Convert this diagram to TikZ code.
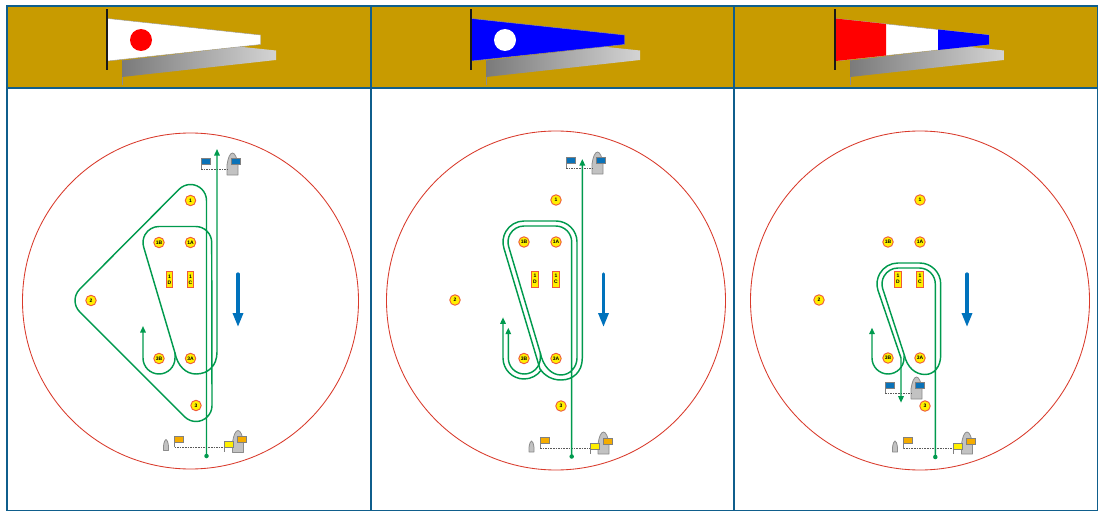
\documentclass[tikz,border=0pt]{standalone}
\usepackage{fontspec}
\setmainfont{Liberation Sans}
\usetikzlibrary{arrows.meta}
\definecolor{framec}{HTML}{0F5E8C}
\definecolor{bandc}{HTML}{C89B00}
\definecolor{coursec}{HTML}{009A4E}
\definecolor{windc}{HTML}{0072BC}
\definecolor{ringc}{HTML}{D93A2B}
\definecolor{buoyc}{HTML}{FFF000}
\definecolor{buoyl}{HTML}{EE5A3A}
\definecolor{flagb}{HTML}{0A72B8}
\definecolor{flago}{HTML}{F5AC00}
\definecolor{flagy}{HTML}{FFF000}
\tikzset{
  course/.style={draw=coursec,line width=1.45pt,line join=round,line cap=round},
  coursearrow/.style={course,-{Triangle[width=5.5pt,length=6.5pt]}},
  coursearrowrev/.style={course,{Triangle[width=5.5pt,length=6.5pt]}-},
  wind/.style={draw=windc,line width=3.2pt,line cap=round,-{Triangle[width=10pt,length=14pt]}},
  buoy/.style={circle,draw=buoyl,fill=buoyc,line width=.9pt,minimum size=10.5pt,inner sep=0pt,font=\fontsize{5}{5}\selectfont\bfseries},
  rectbuoy/.style={rectangle,draw=buoyl,fill=buoyc,line width=.9pt,minimum width=6.5pt,minimum height=16pt,inner sep=0pt,align=center,font=\fontsize{5}{6}\selectfont\bfseries},
  ring/.style={draw=ringc,line width=.85pt},
  panel/.style={draw=framec,line width=2pt},
  boat/.style={fill=black!24,draw=black!45,line width=.8pt,line join=round},
  flagbox/.style={draw=black!50,line width=.8pt},
  staff/.style={draw=black!50,line width=.8pt},
  layline/.style={draw=black!65,line width=.7pt,dash pattern=on 1.6pt off 1pt},
  dotend/.style={circle,fill=coursec,inner sep=0pt,minimum size=4.5pt},
}
\newcommand\bigboat[3]{% x left, y top, (w=11,h=22)
  \path[boat] (#1,#2+22) -- (#1,#2+12) .. controls (#1+1,#2+5) and (#1+3,#2) .. (#1+5.5,#2)
    .. controls (#1+8,#2) and (#1+10,#2+5) .. (#1+11,#2+12) -- (#1+11,#2+22) -- cycle;
}
\newcommand\topgate[3]{% left staff x, line y, colour
  \begin{scope}[shift={(#1,#2)}]
    \bigboat{26}{-16}{}
    \path[staff] (0,0) -- (0,-8);
    \path[layline] (0,0) -- (27,0);
    \path[flagbox,fill=#3] (0,-11) rectangle (9,-5);
    \path[flagbox,fill=#3] (30.5,-11) rectangle (39.5,-5);
  \end{scope}
}
\newcommand\bottomgate[2]{% left staff x, line y
  \begin{scope}[shift={(#1,#2)}]
    \path[boat] (-11,3.5) -- (-11,-1) .. controls (-10.5,-5) and (-9.5,-7.5) .. (-8.5,-7.5)
      .. controls (-7.5,-7.5) and (-6.5,-5) .. (-6,-1) -- (-6,3.5) -- cycle;
    \bigboat{58}{-16.5}{}
    \path[staff] (0,0) -- (0,-9);
    \path[flagbox,fill=flago] (0,-11) rectangle (9,-5);
    \path[layline] (0,0) -- (50,0);
    \path[staff] (50,-5) -- (50,5);
    \path[flagbox,fill=flagy] (50,-5.5) rectangle (59,0.5);
    \path[flagbox,fill=flago] (63,-10.5) rectangle (72,-4.5);
  \end{scope}
}
\newcommand\pennant[1]{% x offset; gives grey shadow and pole
  \begin{scope}[xshift=#1]
    \path[draw=black!45,line width=1pt] (122.5,60) -- (122.5,85);
    \shade[left color=black!52,right color=black!17,draw=none]
      (122,60.5) -- (240,46.7) -- (276,50.5) -- (276,60) -- (122,77) -- cycle;
  \end{scope}
}
\newcommand\pole[1]{\path[draw=black!90,line width=1.4pt] (#1,9.5) -- (#1,70);}
\begin{document}
\begin{tikzpicture}[x=1pt,y=-1pt]
\useasboundingbox (0,0) rectangle (1098,511);
\fill[white] (0,0) rectangle (1098,511);
% header bands
\fill[bandc] (7,6) rectangle (1097,88);
% pennants
\pennant{0pt}\pennant{364pt}\pennant{728pt}
\path[fill=white,draw=black!40,line width=.4pt] (107.5,18.5) -- (260.5,35) -- (260.5,44.5) -- (107.5,61) -- cycle;
\fill[red] (141,40) circle[radius=11];
\pole{107}
\path[fill=blue,draw=black!40,line width=.4pt] (471.5,18.5) -- (624.5,35) -- (624.5,44.5) -- (471.5,61) -- cycle;
\fill[white] (505,40) circle[radius=11];
\pole{471}
\path[fill=white,draw=black!40,line width=.4pt] (835.5,18.5) -- (989,35) -- (989,44.5) -- (835.5,61) -- cycle;
\fill[red] (835.5,18.5) -- (886,24) -- (886,55.5) -- (835.5,61) -- cycle;
\fill[blue] (938,29.5) -- (989,35) -- (989,44.5) -- (938,50) -- cycle;
\pole{835}
% frame
\path[panel] (7,6) rectangle (1097.5,510.5);
\path[panel] (7,88) -- (1097.5,88);
\path[panel] (371,6) -- (371,510.5);
\path[panel] (734,6) -- (734,510.5);
% course circles
\path[ring] (190.5,301) circle[radius=168];
\path[ring] (556,300.5) circle[radius=169.5];
\path[ring] (920,300.5) circle[radius=169.5];
% gates
\topgate{201}{169}{flagb}
\topgate{566}{168}{flagb}
\topgate{885}{393}{flagb}
\bottomgate{174.5}{447}
\bottomgate{540}{448.5}
\bottomgate{903.5}{448.5}
% --- panel 1 course
\path[coursearrow] (206.5,456) -- (206.5,200.5) arc[start angle=0,end angle=-135,radius=16]
  -- (79.7,289.2) arc[start angle=-135,end angle=-225,radius=16]
  -- (184.7,416.8) arc[start angle=-225,end angle=-360,radius=16]
  -- (211.7,242.5) arc[start angle=0,end angle=-90,radius=16]
  -- (159,226.5) arc[start angle=-90,end angle=-197,radius=16]
  -- (175,353) .. controls (177.5,366) and (186,374) .. (196,374)
  .. controls (208,374) and (217,366) .. (217,352) -- (217,149);
\path[coursearrowrev] (143,326) -- (143,358) arc[start angle=180,end angle=0,radius=16] -- (175,353);
\node[dotend] (p1start) at (206.5,456) {};
% --- panel 2 course
\path[coursearrow] (571.7,456) -- (571.7,242) arc[start angle=0,end angle=-90,radius=16]
  -- (524,226) arc[start angle=-90,end angle=-197,radius=16]
  -- (540.3,353) .. controls (543,366) and (551,375) .. (561,375)
  .. controls (570,375) and (577,367) .. (577,358)
  -- (577,242) arc[start angle=0,end angle=-90,radius=21]
  -- (524,221) arc[start angle=-90,end angle=-197,radius=21]
  -- (540,369) .. controls (545,376) and (552,380) .. (561,380)
  .. controls (573,380) and (582.3,372) .. (582.3,358) -- (582.3,159);
\path[coursearrowrev] (503,317.3) -- (503,358) arc[start angle=180,end angle=35,radius=21];
\path[coursearrowrev] (508.3,327.7) -- (508.3,358) arc[start angle=180,end angle=0,radius=16] -- (540.3,353);
\node[dotend] (p2start) at (571.7,456.5) {};
% --- panel 3 course
\path[coursearrow] (935.3,457) -- (935.3,284) arc[start angle=0,end angle=-90,radius=16]
  -- (898,268) arc[start angle=-90,end angle=-197,radius=16]
  -- (904.3,355) .. controls (907,367) and (915,374.5) .. (925,374.5)
  .. controls (934,374.5) and (940.7,367) .. (940.7,355)
  -- (940.7,284) arc[start angle=0,end angle=-90,radius=21]
  -- (898,263) arc[start angle=-90,end angle=-197,radius=21]
  -- (901,358) -- (901,402.7);
\path[coursearrowrev] (872,327.7) -- (872,358) arc[start angle=180,end angle=0,radius=16] -- (904.3,355);
\node[dotend] (p3start) at (935.3,457) {};
% wind arrows
\coordinate (w1a) at (238,274); \coordinate (w1b) at (238,327);
\coordinate (w2a) at (603.5,274); \coordinate (w2b) at (603.5,327);
\coordinate (w3a) at (967,274); \coordinate (w3b) at (967,327);
\path[wind] (w1a) -- (w1b);
\path[wind] (w2a) -- (w2b);
\path[wind] (w3a) -- (w3b);
% --- marks panel 1
\node[buoy] (a1) at (190.5,200.5) {1};
\node[buoy] (a1a) at (190.5,242.5) {1A};
\node[buoy] (a1b) at (159,242.5) {1B};
\node[rectbuoy] (a1d) at (169.5,279.5) {1\\D};
\node[rectbuoy] (a1c) at (190.5,279.5) {1\\C};
\node[buoy] (a2) at (91,300.5) {2};
\node[buoy] (a3b) at (159,358.5) {3B};
\node[buoy] (a3a) at (190.5,358.5) {3A};
\node[buoy] (a3) at (196,405.5) {3};
% --- marks panel 2
\node[buoy] (b1) at (556,200) {1};
\node[buoy] (b1a) at (556,242) {1A};
\node[buoy] (b1b) at (524,242) {1B};
\node[rectbuoy] (b1d) at (535,279) {1\\D};
\node[rectbuoy] (b1c) at (556,279) {1\\C};
\node[buoy] (b2) at (455,300) {2};
\node[buoy] (b3b) at (524,358.5) {3B};
\node[buoy] (b3a) at (556,358.5) {3A};
\node[buoy] (b3) at (561,406) {3};
% --- marks panel 3
\node[buoy] (c1) at (920,200) {1};
\node[buoy] (c1a) at (920,242) {1A};
\node[buoy] (c1b) at (888,242) {1B};
\node[rectbuoy] (c1d) at (898,279) {1\\D};
\node[rectbuoy] (c1c) at (920,279) {1\\C};
\node[buoy] (c2) at (819,300) {2};
\node[buoy] (c3b) at (888,358) {3B};
\node[buoy] (c3a) at (920,358) {3A};
\node[buoy] (c3) at (925,406) {3};
\end{tikzpicture}
\end{document}
